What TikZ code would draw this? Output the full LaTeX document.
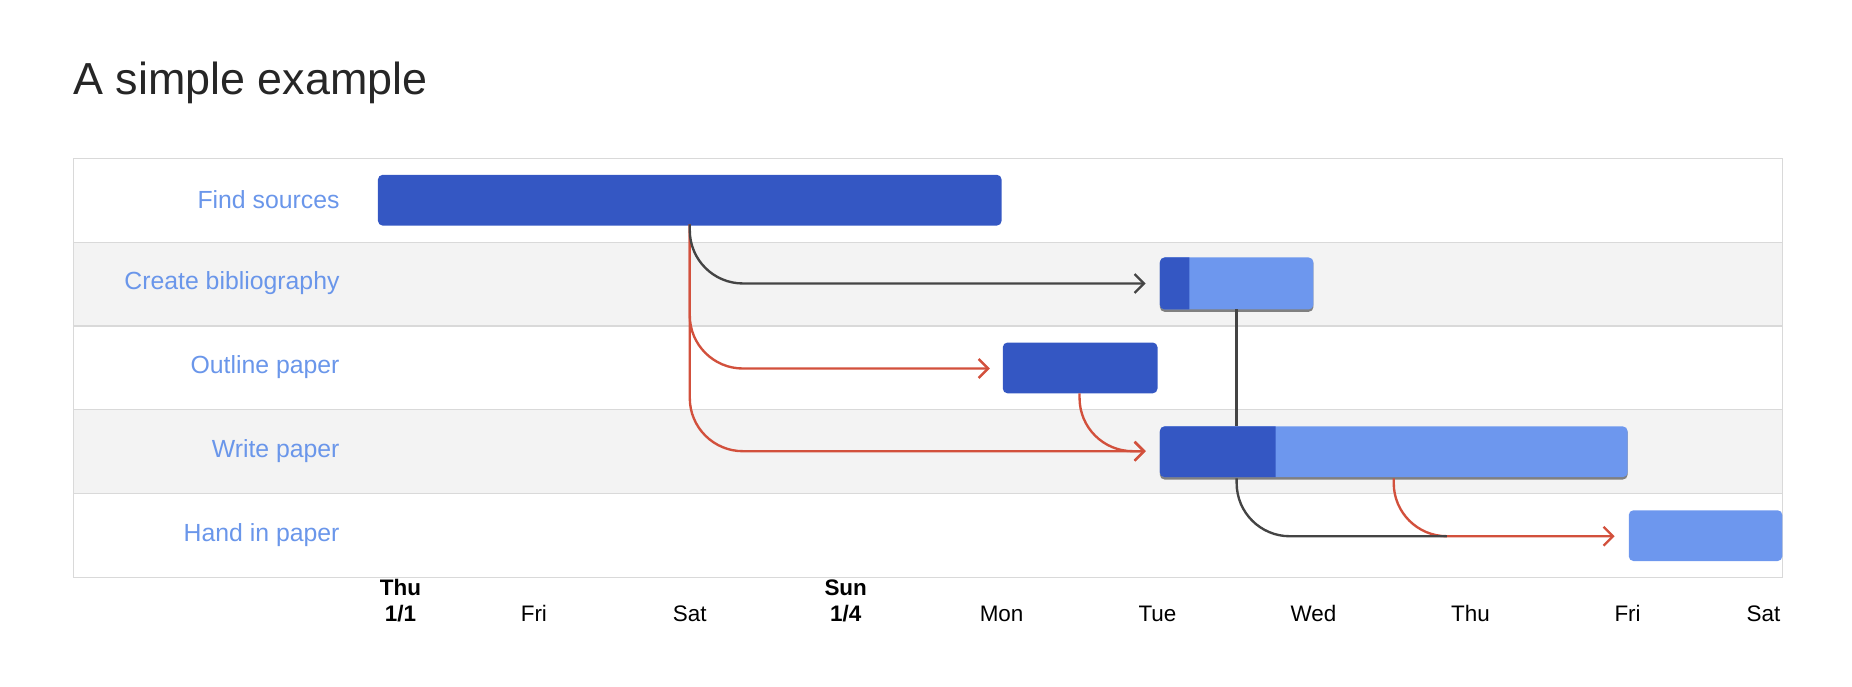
\documentclass[tikz,border=0pt]{standalone}
\usepackage{fontspec}
\setmainfont{Liberation Sans}
\usetikzlibrary{arrows.meta}
\definecolor{dk}{HTML}{3457C3}
\definecolor{lt}{HTML}{6D97EE}
\definecolor{lbl}{HTML}{6A96EA}
\definecolor{rowg}{HTML}{F3F3F3}
\definecolor{grid}{HTML}{D9D9D9}
\definecolor{redc}{HTML}{D2503C}
\definecolor{blk}{HTML}{444444}
\tikzset{
 bar/.style={rounded corners=4pt},
 lab/.style={anchor=east,text=lbl,font=\fontsize{21}{21}\selectfont},
 day/.style={anchor=base,font=\fontsize{19}{22}\selectfont,align=center},
 dep/.style={line width=2pt,-{Straight Barb[length=8pt,width=16pt]},rounded corners=45pt},
}
\begin{document}
\begin{tikzpicture}[x=1pt,y=-1pt]
\useasboundingbox (0,0) rectangle (1568,581);
\node[anchor=base west,inner sep=0,font=\fontsize{38}{38}\selectfont,text=black!85] (title) at (62,80) {A simple example};
\fill[rowg] (62,205) rectangle (1509,276);
\fill[rowg] (62,347) rectangle (1509,418);
\draw[grid,line width=1pt] (62,134) rectangle (1509,489);
\foreach \y in {205,276,347,418} \draw[grid,line width=1pt] (62,\y) -- (1509,\y);
\node[lab] (l1) at (291,169) {Find sources};
\node[lab] (l2) at (291,240) {Create bibliography};
\node[lab] (l3) at (291,311) {Outline paper};
\node[lab] (l4) at (291,382) {Write paper};
\node[lab] (l5) at (291,453) {Hand in paper};
% bars
\fill[dk,bar] (320,148) rectangle (848,191);
\fill[black!50,bar] (982,219) rectangle (1112,264);
\fill[lt,bar] (982,218) rectangle (1112,262);
\fill[dk] (982,218) [rounded corners=4pt] -- (982,262) [sharp corners] -- (1007,262) -- (1007,218) [rounded corners=4pt] -- cycle;
\fill[dk,bar] (849,290) rectangle (980,333);
\fill[black!50,bar] (982,362) rectangle (1378,406);
\fill[lt,bar] (982,361) rectangle (1378,404);
\fill[dk] (982,361) [rounded corners=4pt] -- (982,404) [sharp corners] -- (1080,404) -- (1080,361) [rounded corners=4pt] -- cycle;
\fill[lt,bar] (1379,432) rectangle (1509,475);
\coordinate (a) at (584,190);
\coordinate (b) at (914,333);
\coordinate (c) at (1047,262);
\coordinate (d) at (1047,405);
\coordinate (e) at (1180,405);
% connectors
\draw[dep,redc] (a) -- (584,382) -- (970,382);
\draw[dep,redc] (a) -- (584,312) -- (838,312);
\draw[dep,blk] (a) -- (584,240) -- (970,240);
\draw[dep,redc] (b) -- (914,382) -- (970,382);
\draw[blk,line width=2pt] (c) -- (1047,361);
\draw[dep,redc] (e) -- (1180,454) -- (1367,454);
\draw[blk,line width=2pt,rounded corners=45pt] (d) -- (1047,454) -- (1225,454);
% days
\node[day] (d1) at (339,526) {\bfseries Thu\\\bfseries 1/1};
\node[day] (d2) at (452,526) {Fri};
\node[day] (d3) at (584,526) {Sat};
\node[day] (d4) at (716,526) {\bfseries Sun\\\bfseries 1/4};
\node[day] (d5) at (848,526) {Mon};
\node[day] (d6) at (980,526) {Tue};
\node[day] (d7) at (1112,526) {Wed};
\node[day] (d8) at (1245,526) {Thu};
\node[day] (d9) at (1378,526) {Fri};
\node[day] (d10) at (1493,526) {Sat};
\end{tikzpicture}
\end{document}
